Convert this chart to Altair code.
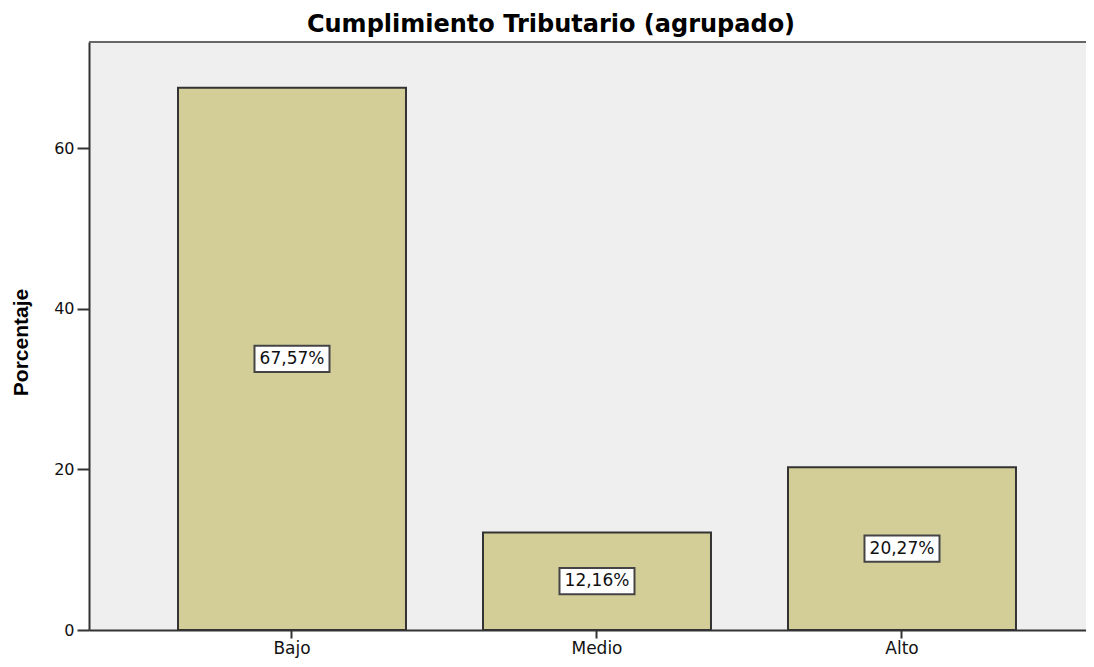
import altair as alt
import pandas as pd

categories = ["Bajo", "Medio", "Alto"]
percentages = [67.57, 12.16, 20.27]
labels = ["67,57%", "12,16%", "20,27%"]
y_ticks = [0, 20, 40, 60]
chart_title = ["Cumplimiento Tributario (agrupado)"]

df = pd.DataFrame({"cat": categories, "pct": percentages, "label": labels})

W, H = 997, 588
PAD_TOP, PAD_BOTTOM, PAD_LEFT = 34, 28, 81

xenc = alt.X(
    "cat:N", sort=categories, title=None,
    scale=alt.Scale(paddingInner=0.2525, paddingOuter=0.2607, align=0.5597),
    axis=alt.Axis(labelAngle=0, labelFont="DejaVu Sans", labelFontSize=17, labelColor="#111",
                  tickSize=8, tickColor="#333", tickWidth=2, domainColor="#333",
                  domainWidth=2, labelPadding=2),
)
yscale = alt.Scale(domain=[0, 73.27], nice=False, zero=True)
yaxis = alt.Axis(values=y_ticks, grid=False, labelFont="DejaVu Sans", labelFontSize=16,
                 labelColor="#111", tickSize=12, tickColor="#333", tickWidth=2,
                 domainColor="#333", domainWidth=2, labelPadding=3,
                 titleFont="Liberation Sans", titleFontSize=21, titleFontWeight="bold",
                 titleColor="#000", titleAngle=270, titleX=-62, titleY=300,
                 titleAlign="center", titleBaseline="alphabetic")

base = alt.Chart(df)

bars = base.mark_bar(color="#d3ce98", stroke="#333", strokeWidth=2).encode(
    x=xenc, y=alt.Y("pct:Q", title="Porcentaje", scale=yscale, axis=yaxis)
)

mids = base.transform_calculate(mid="datum.pct / 2")

boxes = mids.mark_point(
    shape="M-1,-0.35H1V0.35H-1Z", size=75 * 75, filled=True, fill="white",
    fillOpacity=1, opacity=1, stroke="#444", strokeWidth=2
).encode(x=xenc, y=alt.Y("mid:Q", title="Porcentaje", scale=yscale, axis=yaxis))

texts = mids.mark_text(font="DejaVu Sans", fontSize=17, color="#111", baseline="middle").encode(
    x=xenc, y=alt.Y("mid:Q", title="Porcentaje", scale=yscale, axis=yaxis), text="label:N"
)

topline = alt.Chart(pd.DataFrame({"z": [0]})).mark_rule(color="#666", strokeWidth=2).encode(
    x=alt.value(0), x2=alt.value(W), y=alt.value(0)
)

title_txt = alt.Chart(pd.DataFrame({"t": chart_title})).mark_text(
    font="DejaVu Sans", fontSize=24, fontWeight="bold", color="#000",
    align="center", baseline="alphabetic"
).encode(x=alt.value(551 - 89), y=alt.value(-10), text="t:N")

chart = alt.layer(bars, boxes, texts, topline, title_txt).properties(
    width=W, height=H,
    autosize=alt.AutoSizeParams(type="none"),
    padding={"left": PAD_LEFT, "top": PAD_TOP, "right": 0, "bottom": PAD_BOTTOM},
).configure(background="white").configure_view(fill="#efefef", stroke=None)

chart.save("out.html", embed_options={"renderer": "svg", "actions": False})
